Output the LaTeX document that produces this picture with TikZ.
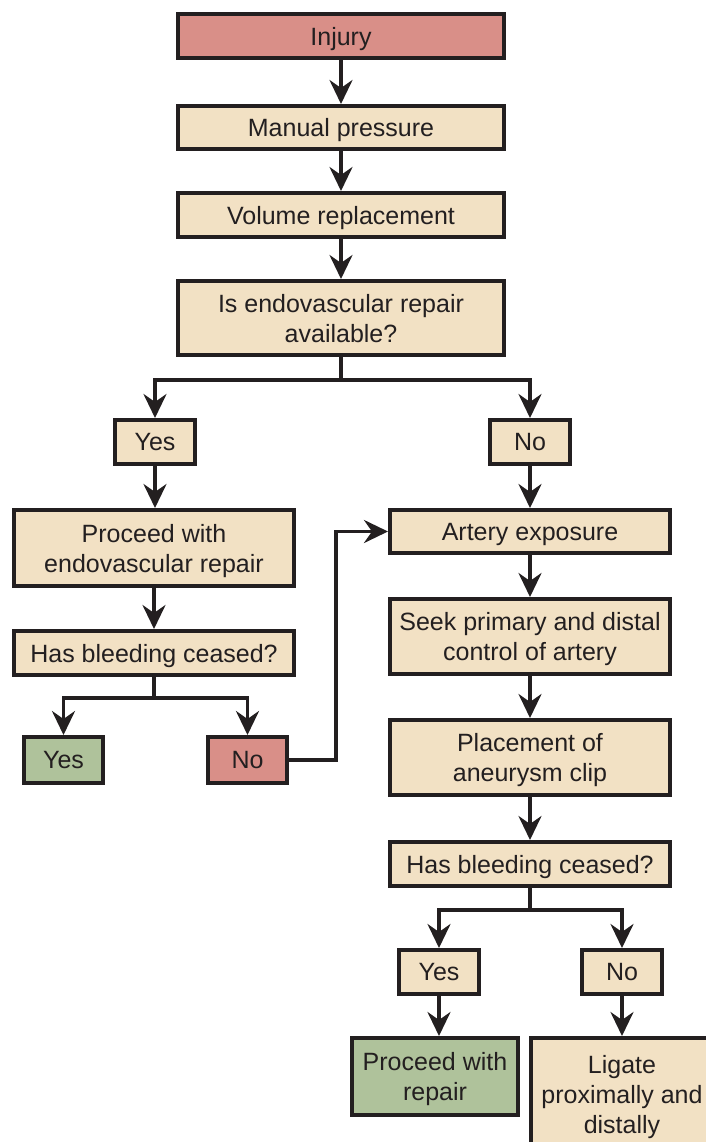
\documentclass[tikz,border=0pt]{standalone}
\usepackage{fontspec}
\setmainfont{Liberation Sans}
\usetikzlibrary{arrows.meta}
\definecolor{ink}{HTML}{231F20}
\definecolor{beige}{HTML}{F2E1C4}
\definecolor{redbox}{HTML}{D98F88}
\definecolor{greenbox}{HTML}{AFC29B}
\tikzset{
  box/.style={draw=ink, line width=4pt, fill=beige, text=ink, inner sep=0pt,
    align=center, text depth=0pt, font=\fontsize{25}{30}\selectfont},
  redb/.style={box, fill=redbox},
  greenb/.style={box, fill=greenbox},
  arr/.style={draw=ink, line width=3.5pt, line join=miter,
    -{Stealth[length=24pt,width=23pt,inset=8pt]}},
  ln/.style={draw=ink, line width=3.5pt, line join=miter},
}
\begin{document}
\begin{tikzpicture}[x=1pt,y=-1pt]
\clip (0,0) rectangle (706,1142);
\fill[white] (0,0) rectangle (706,1142);
% main column
\node[redb, minimum width=326pt, minimum height=44pt] (injury) at (341,36) {Injury};
\node[box, minimum width=326pt, minimum height=43pt] (manual) at (341,127.5) {Manual pressure};
\node[box, minimum width=326pt, minimum height=44pt] (volume) at (341,215) {Volume replacement};
\node[box, minimum width=326pt, minimum height=74pt] (isendo) at (341,318) {Is endovascular repair\\available?};
% left branch
\node[box, minimum width=80pt, minimum height=44pt] (yes1) at (155,442) {Yes};
\node[box, minimum width=280pt, minimum height=76pt] (proc1) at (154,548) {Proceed with\\endovascular repair};
\node[box, minimum width=280pt, minimum height=44pt] (has1) at (154,653) {Has bleeding ceased?};
\node[greenb, minimum width=79pt, minimum height=46pt] (yes2) at (63.5,760) {Yes};
\node[redb, minimum width=79pt, minimum height=46pt] (no2) at (247.5,760) {No};
% right branch
\node[box, minimum width=80pt, minimum height=44pt] (no1) at (530,442) {No};
\node[box, minimum width=280pt, minimum height=43pt] (artery) at (530,531.5) {Artery exposure};
\node[box, minimum width=280pt, minimum height=75pt] (seek) at (530,636.5) {Seek primary and distal\\control of artery};
\node[box, minimum width=280pt, minimum height=75pt] (place) at (530,757.5) {Placement of\\aneurysm clip};
\node[box, minimum width=280pt, minimum height=44pt] (has2) at (530,864) {Has bleeding ceased?};
\node[box, minimum width=80pt, minimum height=44pt] (yes3) at (439,972) {Yes};
\node[box, minimum width=80pt, minimum height=44pt] (no3) at (622,972) {No};
\node[greenb, minimum width=166pt, minimum height=77pt] (proc2) at (435,1076.5) {Proceed with\\repair};
\node[box, minimum width=182pt, minimum height=112pt] (ligate) at (622,1094) {Ligate\\proximally and\\distally};
% branch points
\coordinate (b1) at (341,380);
\coordinate (b2) at (154,698);
\coordinate (b3) at (530,910);
\coordinate (k1) at (336,760);
% connectors
\draw[arr] (injury) -- (manual);
\draw[arr] (manual) -- (volume);
\draw[arr] (volume) -- (isendo);
\draw[ln] (isendo.south) -- (b1);
\draw[arr] (b1) -| (yes1.north);
\draw[arr] (b1) -| (no1.north);
\draw[arr] (yes1) -- (yes1.south |- proc1.north);
\draw[arr] (proc1) -- (has1);
\draw[ln] (has1.south) -- (b2);
\draw[arr] (b2) -| (yes2.north);
\draw[arr] (b2) -| (no2.north);
\draw[arr] (no2.east) -- (k1) |- (artery.west);
\draw[arr] (no1) -- (artery);
\draw[arr] (artery) -- (seek);
\draw[arr] (seek) -- (place);
\draw[arr] (place) -- (has2);
\draw[ln] (has2.south) -- (b3);
\draw[arr] (b3) -| (yes3.north);
\draw[arr] (b3) -| (no3.north);
\draw[arr] (yes3.south) -- (yes3.south |- proc2.north);
\draw[arr] (no3.south) -- (no3.south |- ligate.north);
\end{tikzpicture}
\end{document}
